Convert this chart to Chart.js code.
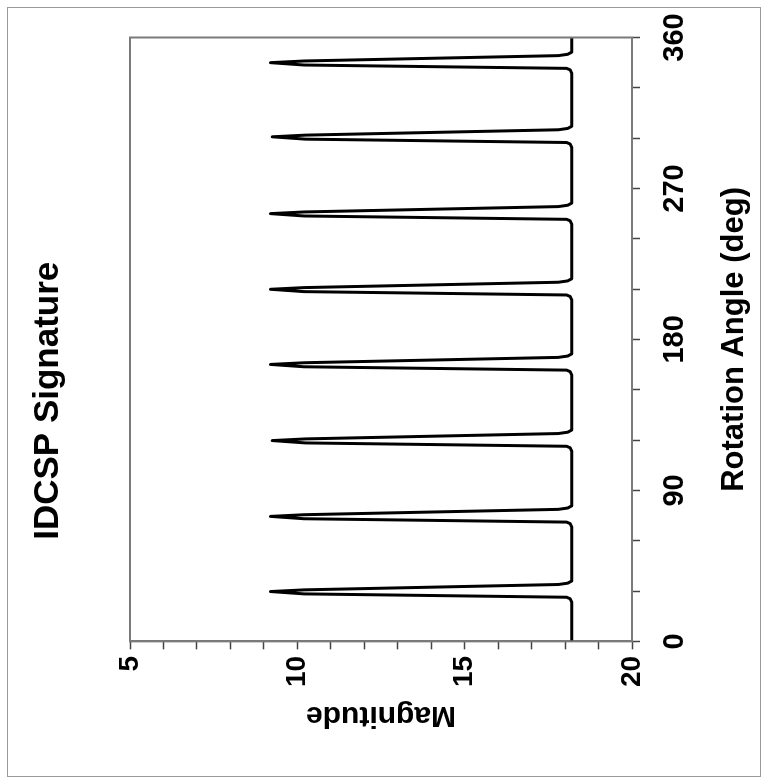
<!DOCTYPE html>
<html><head><meta charset="utf-8">
<script src="https://cdn.jsdelivr.net/npm/chart.js@4.4.0/dist/chart.umd.min.js"></script>
<style>
html,body{margin:0;padding:0;background:#fff;width:769px;height:784px;overflow:hidden;}
#frame{position:absolute;left:7px;top:7px;width:754px;height:770px;border:1px solid #999;box-sizing:border-box;}
#rot{position:absolute;left:0;top:0;width:784px;height:769px;transform-origin:0 0;transform:translateY(784px) rotate(-90deg);}
</style></head><body>
<div id="frame"></div>
<div id="rot"><canvas id="c" width="784" height="769"></canvas></div>
<script>
const chartTitle = 'IDCSP Signature';
const xTitle = 'Rotation Angle (deg)';
const yTitle = 'Magnitude';

const angles = [0,
  23.2, 25.4, 26.3, 28.3, 29.7, 30.7, 33.9, 34.7, 36.0,
  68.0, 70.2, 71.1, 73.1, 74.5, 75.5, 78.7, 79.5, 80.8,
  113.2, 115.4, 116.3, 118.3, 119.7, 120.7, 123.9, 124.7, 126.0,
  158.6, 160.8, 161.7, 163.7, 165.1, 166.1, 169.3, 170.1, 171.4,
  203.4, 205.6, 206.5, 208.5, 209.9, 210.9, 214.1, 214.9, 216.2,
  248.5, 250.7, 251.6, 253.6, 255.0, 256.0, 259.2, 260.0, 261.3,
  294.3, 296.5, 297.4, 299.4, 300.8, 301.8, 305.0, 305.8, 307.1,
  338.5, 340.7, 341.6, 343.6, 345.0, 346.0, 349.2, 350.0, 351.3,
  360];

const magnitudes = [18.2,
  18.2, 18.15, 18.05, 10.2, 9.2, 10.2, 17.8, 18.08, 18.2,
  18.2, 18.15, 18.05, 10.2, 9.2, 10.2, 17.8, 18.08, 18.2,
  18.2, 18.15, 18.05, 10.25, 9.25, 10.25, 17.8, 18.08, 18.2,
  18.2, 18.15, 18.05, 10.2, 9.2, 10.2, 17.8, 18.08, 18.2,
  18.2, 18.15, 18.05, 10.2, 9.2, 10.2, 17.8, 18.08, 18.2,
  18.2, 18.15, 18.05, 10.2, 9.2, 10.2, 17.8, 18.08, 18.2,
  18.2, 18.15, 18.05, 10.25, 9.25, 10.25, 17.8, 18.08, 18.2,
  18.2, 18.15, 18.05, 10.2, 9.2, 10.2, 17.8, 18.08, 18.2,
  18.2];

const xMin = 0, xMax = 360, xStep = 30, xLabelEvery = 90;
const yMin = 5, yMax = 20, yStep = 1, yLabelEvery = 5;

const FONT = '"Liberation Sans", Arial, Helvetica, sans-serif';

const framePlugin = {
  id: 'frame',
  afterDraw(chart) {
    const {ctx, chartArea: a} = chart;
    ctx.save();
    ctx.strokeStyle = '#7a7a7a';
    ctx.lineWidth = 2;
    ctx.strokeRect(a.left, a.top, a.right - a.left, a.bottom - a.top);
    ctx.restore();
  }
};

new Chart(document.getElementById('c'), {
  type: 'line',
  data: {
    datasets: [{
      data: angles.map((a, i) => ({x: a, y: magnitudes[i]})),
      borderColor: '#000',
      borderWidth: 3,
      pointRadius: 0,
      tension: 0,
      fill: false,
      borderJoinStyle: 'round',
      borderCapStyle: 'round'
    }]
  },
  options: {
    responsive: false,
    animation: false,
    layout: {padding: {left: 20, right: 37.5, top: 0, bottom: 16}},
    plugins: {
      legend: {display: false},
      tooltip: {enabled: false},
      title: {
        display: true, text: chartTitle, color: '#000',
        font: {family: FONT, size: 35, weight: 'bold'},
        padding: {top: 27, bottom: 61}
      }
    },
    scales: {
      x: {
        type: 'linear', position: 'bottom', min: xMin, max: xMax,
        afterFit: s => { s.paddingRight = 0; },
        ticks: {
          stepSize: xStep, autoSkip: false, maxRotation: 0, padding: 18, color: '#000',
          font: {family: FONT, size: 29, weight: 'bold'},
          callback: v => (v % xLabelEvery === 0 ? String(v) : '')
        },
        grid: {drawOnChartArea: false, drawTicks: true, tickLength: 8, tickColor: '#444', tickWidth: 1.5},
        border: {display: true, color: '#7a7a7a', width: 2},
        title: {
          display: true, text: xTitle, color: '#000',
          font: {family: FONT, size: 31, weight: 'bold'},
          padding: {top: 5, bottom: 0}
        }
      },
      y: {
        type: 'linear', position: 'left', reverse: true, min: yMin, max: yMax,
        ticks: {
          stepSize: yStep, autoSkip: false, padding: 6.5, color: '#000',
          font: {family: FONT, size: 28, weight: 'bold'},
          callback: v => (v % yLabelEvery === 0 ? String(v) : '')
        },
        grid: {drawOnChartArea: false, drawTicks: true, tickLength: 8, tickColor: '#444', tickWidth: 1.5},
        border: {display: true, color: '#7a7a7a', width: 2},
        title: {
          display: true, text: yTitle, color: '#000',
          font: {family: FONT, size: 30, weight: 'bold'},
          padding: {top: 31, bottom: 3.5}
        }
      }
    }
  },
  plugins: [framePlugin]
});
</script>
</body></html>
